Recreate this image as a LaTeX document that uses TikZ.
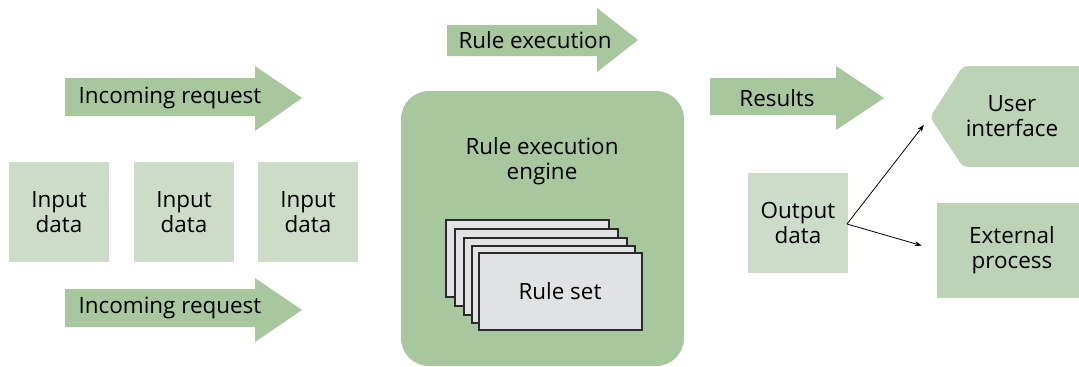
\documentclass[tikz,border=0pt]{standalone}
\usepackage{fontspec}
\setmainfont{Open Sans}
\usetikzlibrary{arrows.meta}
\begin{document}
\begin{tikzpicture}[x=1bp,y=-1bp,
  txt/.style={font=\fontsize{22.5}{25.5}\selectfont, align=center, inner sep=0pt, text=black},
  bigarrow/.style={fill=arrowgreen, draw=none},
  lightbox/.style={fill=lightgreen, draw=none},
  midbox/.style={fill=midgreen, draw=none},
  card/.style={fill=cardgray, draw=cardline, line width=1.3bp},
  conn/.style={-{Stealth[length=7bp,width=5bp]}, line width=0.8bp, black}
]
\definecolor{arrowgreen}{HTML}{A8C79F}
\definecolor{lightgreen}{HTML}{CDDCC9}
\definecolor{midgreen}{HTML}{BDD3B6}
\definecolor{cardgray}{HTML}{E1E2E4}
\definecolor{cardline}{HTML}{2A2A2A}
\useasboundingbox (0,0) rectangle (1079,366);

% incoming request arrows
\fill[bigarrow] (65,78) -- (255,78) -- (255,66) -- (302,98) -- (255,131) -- (255,116) -- (65,116) -- cycle;
\node[txt] (inreq1) at (170,98) {Incoming request};
\fill[bigarrow] (65,289) -- (255,289) -- (255,278) -- (302,310) -- (255,342) -- (255,327) -- (65,327) -- cycle;
\node[txt] (inreq2) at (170,308) {Incoming request};

% input data boxes
\fill[lightbox] (9,162) rectangle (109,262);
\node[txt] (in1) at (59,212) {Input\\data};
\fill[lightbox] (134,162) rectangle (234,262);
\node[txt] (in2) at (184,212) {Input\\data};
\fill[lightbox] (258,162) rectangle (358,262);
\node[txt] (in3) at (308,212) {Input\\data};

% rule execution arrow
\fill[bigarrow] (447,25) -- (597,25) -- (597,8) -- (638,40) -- (597,72) -- (597,56) -- (447,56) -- cycle;
\node[txt] (ruleexec) at (535,40) {Rule execution};

% engine
\fill[bigarrow, rounded corners=28bp] (401,91) rectangle (684,366);
\node[txt] (engine) at (542,161) {Rule execution\\engine};

% rule set cards
\draw[card] (446,220) rectangle (609,297);
\draw[card] (455,229) rectangle (618,306);
\draw[card] (464,238) rectangle (627,315);
\draw[card] (472,246) rectangle (635,323);
\draw[card] (479,253) rectangle (642,330);
\node[txt] (ruleset) at (560,291) {Rule set};

% results arrow
\fill[bigarrow] (710,78) -- (836,78) -- (836,66) -- (884,98) -- (836,130) -- (836,115) -- (710,115) -- cycle;
\node[txt] (results) at (777,98) {Results};

% user interface
\fill[midbox, rounded corners=5bp] (963,66) -- (1085,66) -- (1085,167) -- (963,167) -- (930,117) -- cycle;
\node[txt] (ui) at (1012,116) {User\\interface};
\coordinate (uitip) at (930,117);

% external process
\fill[midbox] (937,203) rectangle (1085,298);
\node[txt] (ext) at (1012,250) {External\\process};
\coordinate (exttip) at (937,250);

% output data
\fill[lightbox] (748,173) rectangle (848,273);
\node[txt] (out) at (798,223) {Output\\data};
\coordinate (outpt) at (847,224);

\draw[conn, shorten >=10bp] (outpt) -- (uitip);
\draw[conn, shorten >=16bp] (outpt) -- (exttip);
\end{tikzpicture}
\end{document}
